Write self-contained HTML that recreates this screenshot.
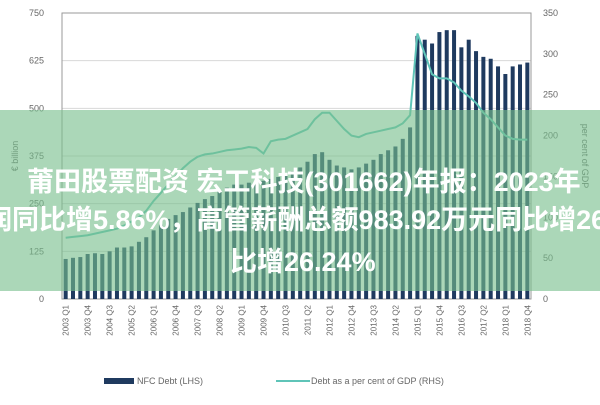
<!DOCTYPE html>
<html><head><meta charset="utf-8"><style>
body{margin:0;width:600px;height:400px;overflow:hidden;background:#fff;font-family:"Liberation Sans",sans-serif}
#wrap{position:relative;width:600px;height:400px}
#banner{position:absolute;left:0;top:110px;width:600px;height:181px;background:rgba(120,190,140,0.62)}
.bt{position:absolute;white-space:nowrap;color:#fff;font-weight:bold;font-size:27px;line-height:30px;font-family:"Liberation Sans","Noto Sans CJK SC",sans-serif}
</style></head><body>
<div id="wrap">
<svg id="chart" width="600" height="400"></svg>
<div id="banner">
<div class="bt" style="left:27px;top:57px">莆田股票配资 宏工科技(301662)年报：2023年</div>
<div class="bt" style="left:-15px;top:95px">润同比增5.86%，高管薪酬总额983.92万元同比增26</div>
<div class="bt" style="left:230px;top:137px">比增26.24%</div>
</div>
</div>
<script>
const debt=[105,108,110,118,120,118,125,135,135,138,150,162,180,195,210,220,228,240,252,262,270,285,292,300,300,305,300,310,315,320,325,335,345,360,380,385,365,350,345,340,345,355,365,380,390,400,420,450,690,680,670,700,705,705,660,680,650,635,630,610,590,610,615,620];
const pctGdp=[75,76,77,78,80,82,84,86,90,95,100,108,120,130,140,150,160,168,174,177,178,180,182,183,184,186,185,178,193,195,196,200,204,208,220,228,228,218,208,200,198,202,204,206,208,210,215,225,325,300,275,270,270,265,255,248,240,228,220,210,200,196,195,195];
const leftTicks=[0,125,250,375,500,625,750];
const rightTicks=[0,50,100,150,200,250,300,350];
const NS='http://www.w3.org/2000/svg';
const svg=document.getElementById('chart');
const X0=62,X1=531,Y0=299,Y1=13;
const n=debt.length,step=(X1-X0)/n;
const yL=v=>Y0-(v/750)*(Y0-Y1);
const yR=v=>Y0-(v/350)*(Y0-Y1);
const xC=i=>X0+step*(i+0.5);
function mk(t,a){const e=document.createElementNS(NS,t);for(const k in a)e.setAttribute(k,a[k]);svg.appendChild(e);return e;}
leftTicks.forEach(t=>{
 const g=mk('line',{x1:X0,x2:X1,y1:yL(t),y2:yL(t),stroke:'#d8d8d8','stroke-width':1});
 
 
 const l=mk('text',{x:X0-18,y:yL(t)+3,'text-anchor':'end','font-size':9,fill:'#666'});
 l.textContent=t;
 
 
});
rightTicks.forEach(t=>{
 const l=mk('text',{x:X1+12,y:yR(t)+3,'text-anchor':'start','font-size':9,fill:'#666'});
 l.textContent=t;
 
 
});
const fr=mk('rect',{x:X0,y:Y1,width:X1-X0,height:Y0-Y1,fill:'none',stroke:'#999','stroke-width':1});


debt.forEach((v,i)=>{
 const b=mk('rect',{x:xC(i)-2,y:yL(v),width:4,height:Y0-yL(v),fill:'#1f3a5f'});
 
 
});
const ln=mk('polyline',{points:pctGdp.map((v,i)=>xC(i)+','+yR(v)).join(' '),fill:'none',stroke:'#5fc4b8','stroke-width':2});


const yrs=[];for(let y=2003;y<=2018;y++)for(let q=1;q<=4;q++)yrs.push(y+' Q'+q);
for(let i=0;i<n;i+=3){
 const t=mk('text',{transform:'translate('+(xC(i)+3)+',305) rotate(-90)','text-anchor':'end','font-size':8,fill:'#666'});
 t.textContent=yrs[i];
 
 
}
const yt=mk('text',{transform:'translate(18,156) rotate(-90)','text-anchor':'middle','font-size':9,fill:'#666'});
yt.textContent='€ billion';


const yt2=mk('text',{transform:'translate(582,156) rotate(90)','text-anchor':'middle','font-size':9,fill:'#666'});
yt2.textContent='per cent of GDP';


const lg1=mk('rect',{x:104,y:378,width:30,height:6,fill:'#1f3a5f'});


const lt1=mk('text',{x:137,y:384,'font-size':9,fill:'#666'});lt1.textContent='NFC Debt (LHS)';


const lg2=mk('line',{x1:276,x2:310,y1:381,y2:381,stroke:'#5fc4b8','stroke-width':2});


const lt2=mk('text',{x:311,y:384,'font-size':9,fill:'#666'});lt2.textContent='Debt as a per cent of GDP (RHS)';


</script>
</body></html>
